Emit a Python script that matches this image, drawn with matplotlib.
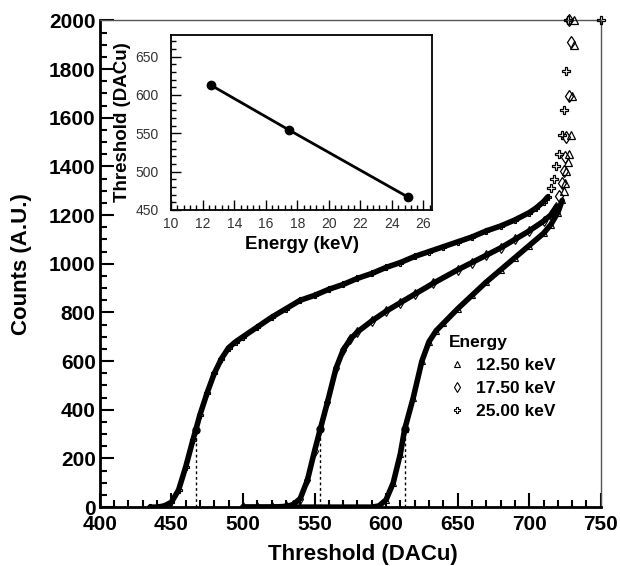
import matplotlib
matplotlib.use("Agg")
import matplotlib.pyplot as plt
from matplotlib.ticker import MultipleLocator

plt.rcParams['font.family'] = ['Liberation Sans', 'DejaVu Sans']
plt.rcParams['font.weight'] = 'bold'

# --- data ---
# 25.00 keV scan (open cross)
a_thr = [435, 440, 445, 450, 455, 460, 465, 470, 475, 480, 485, 490, 495, 500,
         510, 520, 530, 540, 550, 560, 570, 580, 590, 600, 610, 620, 630, 640,
         650, 660, 670, 680, 690, 700, 705, 710, 713]
a_cnt = [0, 0, 5, 20, 70, 165, 275, 380, 470, 550, 610, 655, 680, 700,
         740, 780, 815, 850, 870, 895, 915, 940, 960, 985, 1005, 1030, 1050, 1070,
         1090, 1110, 1135, 1155, 1180, 1210, 1230, 1255, 1275]
a_tail_thr = [715, 717, 719, 721, 723, 724, 726, 727, 750]
a_tail_cnt = [1310, 1350, 1400, 1450, 1530, 1630, 1790, 2000, 2000]

# 17.50 keV scan (open diamond)
b_thr = [500, 510, 520, 530, 535, 540, 545, 550, 554, 559, 565, 570, 575, 580,
         590, 600, 610, 620, 633, 650, 660, 670, 680, 690, 700, 710, 715, 719]
b_cnt = [0, 0, 0, 3, 10, 35, 110, 230, 320, 430, 570, 645, 690, 720,
         765, 805, 840, 875, 920, 975, 1005, 1035, 1065, 1100, 1135, 1175, 1200, 1235]
b_tail_thr = [721, 723, 724, 725, 726, 728, 729, 728]
b_tail_cnt = [1280, 1330, 1380, 1440, 1520, 1690, 1910, 2000]

# 12.50 keV scan (open triangle)
c_thr = [500, 520, 540, 560, 580, 590, 595, 600, 605, 610, 613, 619, 625, 630,
         635, 640, 650, 660, 670, 680, 690, 700, 710, 715, 720, 723]
c_cnt = [0, 0, 0, 0, 0, 0, 5, 30, 100, 220, 320, 450, 600, 680,
         725, 755, 815, 870, 925, 975, 1025, 1075, 1125, 1160, 1210, 1260]
c_tail_thr = [724, 725, 726, 727, 728, 729, 730, 731, 731]
c_tail_cnt = [1300, 1330, 1380, 1420, 1450, 1530, 1690, 1900, 2000]

# 50 % points (threshold per energy)
energies = [12.5, 17.5, 25.0]
thresholds = [613, 554, 467]
half_counts = [320, 322, 318]
legend_labels = ['12.50 keV', '17.50 keV', '25.00 keV']

fig = plt.figure(figsize=(6.2, 5.66), dpi=100)
ax = fig.add_axes([0.161, 0.104, 0.808, 0.860])

series = [(c_thr, c_cnt, c_tail_thr, c_tail_cnt, '^'),
          (b_thr, b_cnt, b_tail_thr, b_tail_cnt, 'd'),
          (a_thr, a_cnt, a_tail_thr, a_tail_cnt, 'P')]

for (x, y, tx, ty, m), lab in zip(series, legend_labels):
    ax.plot(x, y, '-', color='black', lw=4.0, solid_capstyle='round', zorder=3)
    ax.plot(x, y, m, ls='none', mfc='none', mec='black', ms=5, mew=0.8, zorder=3)
    ax.plot(tx, ty, m, ls='none', mfc='none', mec='black', ms=6, mew=0.9,
            clip_on=False, zorder=4)
    # legend proxy
    ax.plot([], [], m, ls='none', mfc='none', mec='black', ms=5, mew=0.8, label=lab)

ax.vlines(thresholds, 0, half_counts, colors='black', linestyles=(0, (2, 2)), lw=1.0, zorder=2)
ax.plot(thresholds, half_counts, 'o', color='black', ms=5, zorder=5)

ax.set_xlim(400, 750)
ax.set_ylim(0, 2000)
ax.xaxis.set_major_locator(MultipleLocator(50))
ax.xaxis.set_minor_locator(MultipleLocator(10))
ax.yaxis.set_major_locator(MultipleLocator(200))
ax.yaxis.set_minor_locator(MultipleLocator(50))
ax.tick_params(which='both', direction='in', width=1.5, labelsize=15)
ax.tick_params(which='major', length=10)
ax.tick_params(which='minor', length=5)
ax.tick_params(axis='x', pad=6)
ax.tick_params(axis='y', pad=3)
for lbl in ax.get_xticklabels() + ax.get_yticklabels():
    lbl.set_fontweight('bold')
for s in ['left', 'bottom']:
    ax.spines[s].set_linewidth(2.0)
for s in ['top', 'right']:
    ax.spines[s].set_linewidth(1.0)
    ax.spines[s].set_color('#555555')

ax.set_xlabel('Threshold (DACu)', fontsize=16, fontweight='bold', labelpad=8)
ax.xaxis.set_label_coords(0.525, -0.075)
ax.set_ylabel('Counts (A.U.)', fontsize=16, fontweight='bold')
ax.yaxis.set_label_coords(-0.135, 0.5)

leg = ax.legend(title='Energy', loc='upper left', bbox_to_anchor=(0.665, 0.385),
                frameon=False, fontsize=12.5, title_fontsize=12.5,
                handlelength=1.0, handletextpad=0.6, labelspacing=0.45)
leg.get_title().set_fontweight('bold')
leg._legend_box.align = 'left'
for t in leg.get_texts():
    t.set_fontweight('bold')

# --- inset: threshold vs energy ---
ins = fig.add_axes([0.276, 0.629, 0.421, 0.309])
ins.plot(energies, thresholds, '-o', color='black', lw=2.0, ms=6)
ins.set_xlim(10, 26.55)
ins.set_ylim(450, 678)
ins.xaxis.set_major_locator(MultipleLocator(2))
ins.xaxis.set_minor_locator(MultipleLocator(0.4))
ins.yaxis.set_major_locator(MultipleLocator(50))
ins.yaxis.set_minor_locator(MultipleLocator(10))
ins.tick_params(which='both', direction='in', width=1.0, labelsize=10, labelcolor='#333333')
ins.tick_params(which='major', length=7)
ins.tick_params(which='minor', length=3.5)
ins.tick_params(axis='x', pad=5)
ins.tick_params(axis='y', pad=9)
for lbl in ins.get_xticklabels() + ins.get_yticklabels():
    lbl.set_fontweight('normal')
for s in ins.spines.values():
    s.set_linewidth(1.3)
ins.set_xlabel('Energy (keV)', fontsize=13.5, fontweight='bold', labelpad=4)
ins.set_ylabel('Threshold (DACu)', fontsize=13.5, fontweight='bold', labelpad=3)

fig.savefig('out.png', dpi=100)
